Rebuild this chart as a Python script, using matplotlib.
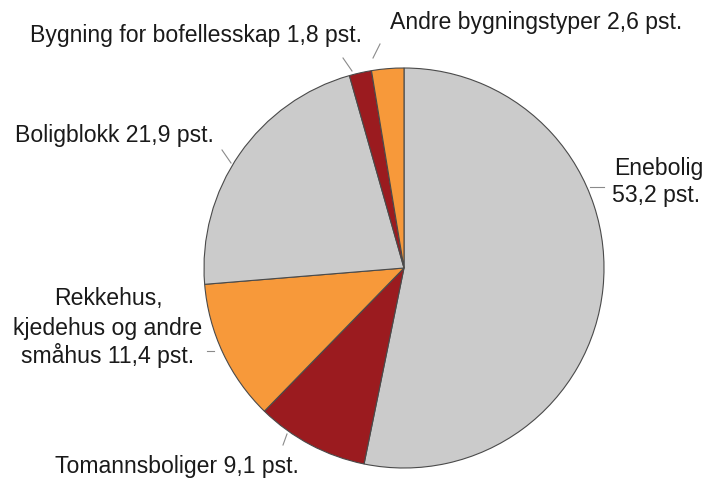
import matplotlib
matplotlib.use("Agg")
import matplotlib.pyplot as plt

categories = ["Enebolig", "Tomannsboliger", "Rekkehus, kjedehus og andre småhus",
              "Boligblokk", "Bygning for bofellesskap", "Andre bygningstyper"]
values = [53.2, 9.1, 11.4, 21.9, 1.8, 2.6]
colors = ["#cbcbcb", "#9b1b1f", "#f7993a", "#cbcbcb", "#9b1b1f", "#f7993a"]

W, H = 707, 478
fig = plt.figure(figsize=(W / 100, H / 100), dpi=100)
ax = fig.add_axes([0, 0, 1, 1])
ax.set_xlim(0, W)
ax.set_ylim(0, H)
ax.set_aspect("equal")
ax.axis("off")

ax.pie(values, colors=colors, startangle=90, counterclock=False,
       center=(404, H - 268), radius=200,
       wedgeprops=dict(edgecolor="#4a4a4a", linewidth=0.8))
ax.set_xlim(0, W)
ax.set_ylim(0, H)

font = dict(family=["Liberation Sans", "DejaVu Sans"], fontsize=16.6, color="#1a1a1a")

def Y(y):
    return H - y

def lead(x1, y1, x2, y2):
    ax.plot([x1, x2], [Y(y1), Y(y2)], color="#8a8a8a", lw=0.8)

ax.text(614, Y(168), "Enebolig", ha="left", va="center", **font)
ax.text(612, Y(195), "53,2 pst.", ha="left", va="center", **font)
lead(590, 187, 604, 187)

ax.text(55, Y(466), "Tomannsboliger 9,1 pst.", ha="left", va="center", **font)
lead(283, 445, 287, 434)

ax.text(108, Y(299), "Rekkehus,", ha="center", va="center", **font)
ax.text(108, Y(328), "kjedehus og andre", ha="center", va="center", **font)
ax.text(108, Y(356), "småhus 11,4 pst.", ha="center", va="center", **font)
lead(207, 351, 214, 351)

ax.text(15, Y(135), "Boligblokk 21,9 pst.", ha="left", va="center", **font)
lead(222, 150, 231, 163)

ax.text(30, Y(35), "Bygning for bofellesskap 1,8 pst.", ha="left", va="center", **font)
lead(343, 58, 352, 71)

ax.text(390, Y(22), "Andre bygningstyper 2,6 pst.", ha="left", va="center", **font)
lead(380, 44, 373, 58)

fig.savefig("out.png", dpi=100)
